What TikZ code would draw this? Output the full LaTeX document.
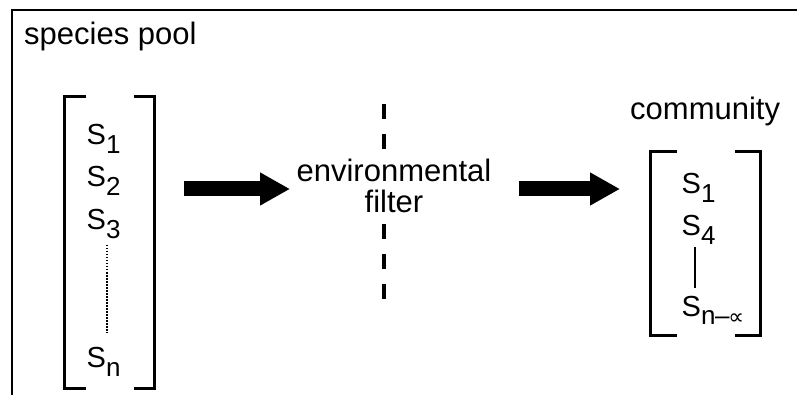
\documentclass[tikz,border=0pt]{standalone}
\usepackage{fontspec}
\setmainfont{Liberation Sans}
\newfontfamily\symfnt{DejaVu Sans}
\usetikzlibrary{arrows.meta}
\newcommand\spsub[1]{{\fontsize{26}{26}\selectfont\raisebox{-9pt}{#1}}}
\begin{document}
\begin{tikzpicture}[x=1pt,y=-1pt,
  lbl/.style={inner sep=0pt, font=\fontsize{31}{31}\selectfont},
  spc/.style={inner sep=0pt, anchor=base west, font=\fontsize{29}{29}\selectfont},
  brk/.style={line width=3pt, line join=miter},
  bigarrow/.style={line width=15pt, -{Triangle[length=30pt,width=31pt]}},
  dotline/.style={line width=1.5pt, dash pattern=on 1.5pt off 1.5pt},
  solidline/.style={line width=2pt},
  filterline/.style={line width=3.5pt, dash pattern=on 15pt off 15pt},
  frame/.style={line width=2pt}]
\useasboundingbox (0,0) rectangle (800,395);
% frame (left and top edges)
\coordinate (f1) at (11.5,395);
\coordinate (f2) at (11.5,10.5);
\coordinate (f3) at (797,10.5);
\draw[frame] (f1) -- (f2) -- (f3);
% labels
\node[lbl, anchor=base west] (pool) at (24,45) {species pool};
\node[lbl, anchor=base west] (comm) at (630,120) {community};
% species pool bracket
\draw[brk] (86,96.7) -- (64.7,96.7) -- (64.7,388.7) -- (86,388.7);
\draw[brk] (133.5,96.7) -- (154.2,96.7) -- (154.2,388.7) -- (133.5,388.7);
\node[spc] (p1) at (86.5,145) {S\spsub{1}};
\node[spc] (p2) at (86.5,187) {S\spsub{2}};
\node[spc] (p3) at (86.5,230) {S\spsub{3}};
\node[spc] (pn) at (86.5,367) {S\spsub{n}};
\coordinate (d1) at (107,245);
\coordinate (d2) at (107,333);
\draw[dotline] (d1) -- (d2);
% environmental filter
\coordinate (e1) at (384,104);
\coordinate (e2) at (384,300);
\draw[filterline] (e1) -- (e2);
\node[lbl, fill=white, align=center, inner sep=1pt] (filter) at (394,185.5) {environmental\\filter};
% arrows
\coordinate (a1s) at (184,189);
\coordinate (a1e) at (290,189);
\draw[bigarrow] (a1s) -- (a1e);
\coordinate (a2s) at (519,189);
\coordinate (a2e) at (620,189);
\draw[bigarrow] (a2s) -- (a2e);
% community bracket
\draw[brk] (677,151.5) -- (650.5,151.5) -- (650.5,335) -- (677,335);
\draw[brk] (735,151.5) -- (760,151.5) -- (760,335) -- (735,335);
\node[spc] (c1) at (681.5,194) {S\spsub{1}};
\node[spc] (c4) at (681.5,236) {S\spsub{4}};
\node[spc] (cn) at (681.5,316) {S\spsub{n\kern-0.5pt–\kern-1pt{\symfnt\fontsize{22}{22}\selectfont ∝}}};
\coordinate (v1) at (695.3,247);
\coordinate (v2) at (695.3,288);
\draw[solidline] (v1) -- (v2);
\end{tikzpicture}
\end{document}
